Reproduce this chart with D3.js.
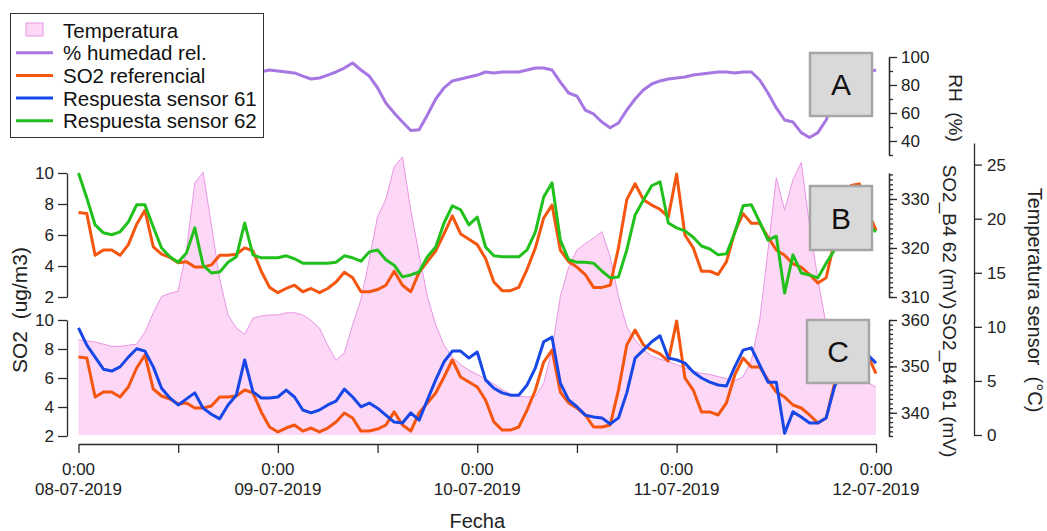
<!DOCTYPE html>
<html>
<head>
<meta charset="utf-8">
<script src="https://cdn.jsdelivr.net/npm/d3@7"></script>
<style>
  body { margin: 0; background: #fff; }
  svg { font-family: "Liberation Sans", Arial, sans-serif; }
  .axis path, .axis line { stroke: #2a2a2a; stroke-width: 1.3; }
  .axis text { fill: #222; font-size: 17px; }
</style>
</head>
<body>
<svg id="chart" width="1047" height="531"></svg>
<script>
// hourly samples, 08-07-2019 0:00 .. 12-07-2019 0:00
var startTime = new Date(2019, 6, 8, 0, 0);
var endTime = new Date(2019, 6, 12, 0, 0);
var dayLabels = ["08-07-2019", "09-07-2019", "10-07-2019", "11-07-2019", "12-07-2019"];
var hourLabel = "0:00";

var temperatura = [8.8, 8.7, 8.6, 8.4, 8.2, 8.2, 8.3, 8.4, 9.5, 11.3, 12.8, 13.1, 13.3, 17.1, 23.3, 24.3,
  19.4, 14.4, 11.1, 9.9, 9.3, 10.8, 11.0, 11.1, 11.1, 11.3, 11.3, 11.1, 10.6, 9.9, 8.3, 6.9,
  7.6, 10.2, 12.5, 16.2, 20.2, 21.8, 24.8, 25.7, 20.8, 16.7, 12.8, 10.2, 8.3, 7.2, 6.5, 6.0,
  5.6, 5.2, 4.7, 4.2, 3.8, 3.6, 3.5, 3.6, 4.8, 7.9, 12.8, 15.5, 17.1, 17.7, 18.2, 18.8,
  16.5, 12.8, 10.0, 8.8, 7.9, 7.3, 7.0, 6.8, 6.5, 6.2, 5.9, 5.7, 5.6, 5.4, 5.2, 5.0,
  5.4, 6.9, 10.6, 17.1, 23.8, 20.8, 23.6, 25.2, 19.4, 14.4, 10.2, 8.8, 7.1, 6.2, 5.5, 4.9, 4.4];

var humedad = [84, 85, 86, 87, 87, 88, 88, 87, 85, 80, 73, 66, 59, 54, 51, 53,
  60, 68, 76, 82, 86, 88, 89.5, 90.7, 90, 89.3, 88.6, 86.4, 84.3, 85, 87.1, 89.3,
  92.1, 95.7, 90.7, 86.4, 77.9, 67.1, 60, 53.6, 47.5, 48, 58.6, 70, 77.9, 82.9, 84.3, 85.7,
  87.1, 89.3, 88.6, 89.3, 89.3, 89.3, 90.7, 92.1, 92.1, 90.7, 82.1, 74.3, 72.1, 62.1, 59.3, 53.6,
  49.5, 52.9, 62.1, 70, 76.4, 80.7, 82.9, 84.3, 85, 85.7, 87.1, 87.9, 88.6, 89.3, 89.3, 88.6,
  89.3, 89.3, 83.6, 74.3, 63.6, 55, 53.6, 46, 42.5, 46, 55, 69.3, 80, 85, 87.9, 89.3, 90.7];

var so2Referencial = [7.45, 7.38, 4.69, 5.03, 5.03, 4.69, 5.38, 6.69, 7.59, 5.24, 4.76, 4.55, 4.21, 4.28, 3.93, 3.93,
  4.07, 4.69, 4.69, 4.76, 5.17, 4.97, 3.66, 2.62, 2.28, 2.55, 2.76, 2.34, 2.55, 2.28, 2.55, 2.97,
  3.59, 3.24, 2.34, 2.34, 2.48, 2.76, 3.66, 2.76, 2.34, 3.59, 4.28, 4.97, 6.07, 7.24, 6.07, 5.72,
  5.38, 4.48, 2.97, 2.41, 2.41, 2.62, 3.79, 5.17, 7.10, 7.93, 5.03, 4.28, 3.93, 3.45, 2.62, 2.62,
  2.76, 5.17, 8.28, 9.31, 8.28, 7.93, 7.66, 7.17, 9.93, 6.0, 5.17, 3.66, 3.66, 3.45, 4.28, 6.21,
  7.38, 6.76, 6.76, 5.86, 5.03, 4.69, 4.14, 3.93, 3.45, 2.90, 3.24, 5.6, 8.0, 9.2, 9.3, 7.6, 6.3];

var sensor61 = [358.3, 354.6, 352.0, 349.4, 349.0, 349.9, 352.0, 353.8, 353.3, 349.9, 345.3, 343.2, 341.7, 343.0, 344.3, 341.0,
  339.7, 338.7, 341.7, 343.8, 351.4, 344.5, 343.2, 343.2, 343.4, 344.9, 343.4, 340.6, 340.0, 340.6, 341.7, 342.5,
  345.1, 343.4, 341.3, 342.1, 341.0, 339.5, 338.0, 337.8, 340.0, 338.4, 342.8, 347.1, 351.0, 353.3, 353.3, 351.8,
  353.1, 347.1, 345.3, 344.3, 343.8, 343.8, 346.0, 349.7, 355.3, 356.3, 346.4, 342.8, 341.3, 339.5, 339.1, 338.9,
  337.6, 338.9, 344.3, 351.8, 353.5, 355.3, 356.6, 351.8, 351.4, 350.7, 348.8, 347.5, 346.6, 346.0, 345.8, 349.9,
  353.5, 354.0, 350.3, 346.6, 346.6, 335.6, 340.2, 339.1, 337.8, 337.8, 338.9, 345.6, 349.2, 351.4, 353.1, 352.5, 350.7];

var sensor62 = [335.3, 330.2, 324.7, 323.1, 322.7, 323.3, 325.3, 328.8, 328.8, 324.3, 320.0, 318.2, 317.1, 319.0, 324.1, 316.5,
  314.9, 315.1, 317.1, 318.2, 325.1, 318.6, 318.0, 318.0, 318.0, 318.4, 317.8, 316.9, 316.9, 316.9, 316.9, 317.1,
  318.4, 318.0, 317.3, 319.2, 319.6, 317.6, 316.5, 314.1, 314.5, 315.1, 318.2, 320.2, 325.1, 328.6, 327.8, 324.7,
  326.3, 320.2, 318.4, 318.2, 318.2, 318.2, 319.6, 323.3, 330.4, 333.3, 321.6, 317.6, 317.1, 317.1, 316.9, 315.3,
  313.9, 314.1, 319.6, 326.7, 329.8, 332.7, 333.5, 325.1, 324.1, 323.5, 322.2, 320.4, 319.8, 318.6, 318.8, 323.1,
  328.6, 328.8, 325.3, 321.6, 322.4, 310.8, 318.6, 314.9, 314.5, 313.9, 316.9, 319.6, 322.2, 324.1, 325.3, 324.7, 323.3];

var panelLetters = ["A", "B", "C"];

var svg = d3.select("#chart");

function timeAt(i) { return d3.timeHour.offset(startTime, i); }

var x = d3.scaleTime().domain([startTime, endTime]).range([78.5, 876]);
var yRH = d3.scaleLinear().domain([30, 100]).range([155, 57]);
var ySO2b = d3.scaleLinear().domain([2, 10]).range([297, 173]);
var ySO2c = d3.scaleLinear().domain([2, 10]).range([436, 320]);
var y62 = d3.scaleLinear().domain([310, 335.3]).range([297, 173]);
var y61 = d3.scaleLinear().domain([335, 360]).range([436, 320]);
var yT = d3.scaleLinear().domain([0, 27]).range([435, 143]);

// temperature fill (behind)
var area = d3.area()
  .x(function(d, i) { return x(timeAt(i)); })
  .y0(yT(0))
  .y1(function(d) { return yT(d); });
svg.append("path").datum(temperatura)
  .attr("d", area)
  .attr("fill", "#fcd8f6");
svg.append("path").datum(temperatura)
  .attr("d", d3.line().x(function(d, i) { return x(timeAt(i)); }).y(function(d) { return yT(d); }))
  .attr("fill", "none").attr("stroke", "#e896e4").attr("stroke-width", 1);

function drawLine(data, yScale, color) {
  svg.append("path").datum(data)
    .attr("d", d3.line().x(function(d, i) { return x(timeAt(i)); }).y(function(d) { return yScale(d); }))
    .attr("fill", "none")
    .attr("stroke", color)
    .attr("stroke-width", 3)
    .attr("stroke-linejoin", "round");
}

var cRH = "#a676e2", cRef = "#f5560f", c61 = "#1747e6", c62 = "#22c01c";

drawLine(humedad, yRH, cRH);
drawLine(so2Referencial, ySO2b, cRef);
drawLine(sensor62, y62, c62);
drawLine(so2Referencial, ySO2c, cRef);
drawLine(sensor61, y61, c61);

// axes
function axisG(tx, ty) {
  return svg.append("g").attr("class", "axis").attr("transform", "translate(" + tx + "," + ty + ")");
}

// bottom time axis
var xg = axisG(0, 444).call(d3.axisBottom(x).ticks(d3.timeHour.every(12)).tickSize(9).tickSizeOuter(0).tickFormat(""));
var dayTimes = dayLabels.map(function(d, i) { return d3.timeDay.offset(startTime, i); });
var lab = xg.selectAll(".daylab").data(dayTimes).enter().append("text")
  .attr("class", "daylab")
  .attr("text-anchor", "middle")
  .attr("x", function(d) { return x(d); });
lab.append("tspan").attr("x", function(d) { return x(d); }).attr("y", 31).text(hourLabel);
lab.append("tspan").attr("x", function(d) { return x(d); }).attr("y", 51).text(function(d, i) { return dayLabels[i]; });

// left SO2 axes
axisG(67, 0).call(d3.axisLeft(ySO2b).tickValues([2, 4, 6, 8, 10]).tickSize(9).tickSizeOuter(0).tickPadding(4));
axisG(67, 0).call(d3.axisLeft(ySO2c).tickValues([2, 4, 6, 8, 10]).tickSize(9).tickSizeOuter(0).tickPadding(4));

// right axes with minor ticks
function rightAxis(scale, xpos, major, minor) {
  axisG(xpos, 0).call(d3.axisRight(scale).tickValues(minor).tickSize(4).tickSizeOuter(0).tickFormat(""));
  axisG(xpos, 0).call(d3.axisRight(scale).tickValues(major).tickSize(8).tickSizeOuter(0).tickPadding(4));
}
rightAxis(yRH, 889, [40, 60, 80, 100], [30, 50, 70, 90]);
rightAxis(y62, 889, [310, 320, 330], d3.range(310, 336));
rightAxis(y61, 889, [340, 350, 360], d3.range(335, 361));
axisG(974, 0).call(d3.axisRight(yT).tickValues([0, 5, 10, 15, 20, 25]).tickSize(8).tickSizeOuter(0).tickPadding(5));

// axis titles
function rotLabel(txt, cx, cy, angle, size) {
  svg.append("text")
    .attr("transform", "translate(" + cx + "," + cy + ") rotate(" + angle + ")")
    .attr("text-anchor", "middle")
    .attr("dominant-baseline", "central")
    .style("white-space", "pre")
    .attr("font-size", size)
    .attr("fill", "#222")
    .text(txt);
}
rotLabel("SO2  (ug/m3)", 19, 310, -90, 21);
rotLabel("RH  (%)", 955, 108, 90, 19);
rotLabel("SO2_B4 62 (mV)", 949, 237, 90, 19);
rotLabel("SO2_B4 61 (mV)", 949, 385, 90, 19);
rotLabel("Temperatura sensor  (°C)", 1035, 300, 90, 20);

svg.append("text").attr("x", x(d3.timeHour.offset(startTime, 48))).attr("y", 528)
  .attr("text-anchor", "middle").attr("font-size", 20).attr("fill", "#222").text("Fecha");

// panel letter boxes
var boxes = [[810, 53, 62, 63], [810, 186, 62, 64], [807, 320, 62, 63]];
var bg = svg.selectAll(".pbox").data(panelLetters).enter().append("g").attr("class", "pbox");
bg.append("rect")
  .attr("x", function(d, i) { return boxes[i][0]; })
  .attr("y", function(d, i) { return boxes[i][1]; })
  .attr("width", function(d, i) { return boxes[i][2]; })
  .attr("height", function(d, i) { return boxes[i][3]; })
  .attr("fill", "#d9d9d9").attr("stroke", "#a6a6a6").attr("stroke-width", 2.5);
bg.append("text")
  .attr("x", function(d, i) { return boxes[i][0] + boxes[i][2] / 2; })
  .attr("y", function(d, i) { return boxes[i][1] + boxes[i][3] / 2; })
  .attr("text-anchor", "middle").attr("dominant-baseline", "central")
  .attr("font-size", 30).attr("fill", "#111")
  .text(function(d) { return d; });

// legend
var legendItems = [
  { name: "Temperatura", type: "fill" },
  { name: "% humedad rel.", color: cRH },
  { name: "SO2 referencial", color: cRef },
  { name: "Respuesta sensor 61", color: c61 },
  { name: "Respuesta sensor 62", color: c62 }
];
var lg = svg.append("g");
lg.append("rect").attr("x", 10.5).attr("y", 13.5).attr("width", 253).attr("height", 124)
  .attr("fill", "#fff").attr("stroke", "#333").attr("stroke-width", 1);
legendItems.forEach(function(it, i) {
  var cy = 30 + i * 22.7;
  if (it.type === "fill") {
    lg.append("rect").attr("x", 26).attr("y", cy - 7).attr("width", 17).attr("height", 13)
      .attr("fill", "#fcd8f6").attr("stroke", "#e896e4").attr("stroke-width", 1);
  } else {
    lg.append("line").attr("x1", 16).attr("x2", 53).attr("y1", cy).attr("y2", cy)
      .attr("stroke", it.color).attr("stroke-width", 3);
  }
  lg.append("text").attr("x", 63).attr("y", cy).attr("dominant-baseline", "central")
    .attr("font-size", 20.5).attr("fill", "#111").text(it.name);
});
</script>
</body>
</html>
